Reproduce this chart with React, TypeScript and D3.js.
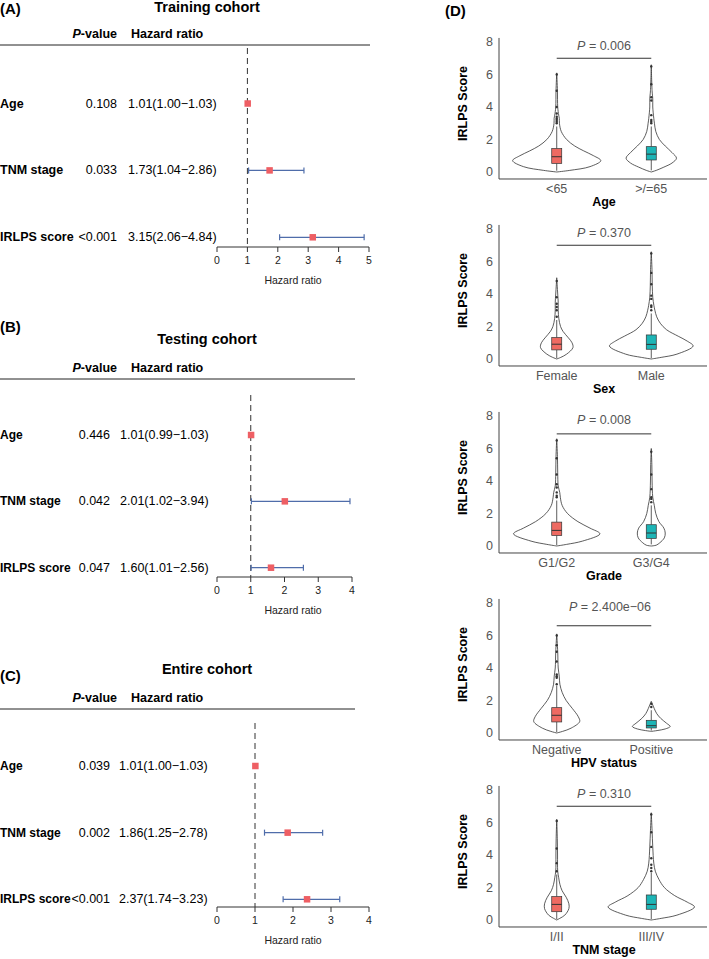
import React from 'react';
import * as d3 from 'd3';

const FONT = '"Liberation Sans", Arial, Helvetica, sans-serif';

// ---- forest plots (A-C) ----
const forestVars = ['Age', 'TNM stage', 'IRLPS score'];
const forestTicksMax = [5, 4, 4];

const trainP = ['0.108', '0.033', '<0.001'];
const trainHR = [1.01, 1.73, 3.15];
const trainLo = [1.0, 1.04, 2.06];
const trainHi = [1.03, 2.86, 4.84];

const testP = ['0.446', '0.042', '0.047'];
const testHR = [1.01, 2.01, 1.6];
const testLo = [0.99, 1.02, 1.01];
const testHi = [1.03, 3.94, 2.56];

const entireP = ['0.039', '0.002', '<0.001'];
const entireHR = [1.01, 1.86, 2.37];
const entireLo = [1.0, 1.25, 1.74];
const entireHi = [1.03, 2.78, 3.23];

// ---- violin plots (D) ----
const violinVariables = ['Age', 'Sex', 'Grade', 'HPV status', 'TNM stage'];
const violinGroups = [
  ['<65', '>/=65'],
  ['Female', 'Male'],
  ['G1/G2', 'G3/G4'],
  ['Negative', 'Positive'],
  ['I/II', 'III/IV'],
];
const violinPValues = ['0.006', '0.370', '0.008', '2.400e\u221206', '0.310'];
const violinPLine = [7.0, 7.0, 6.9, 6.6, 7.0];
const scoreTicks = [0, 2, 4, 6, 8];

// [score, density] profiles
const densityAge = [
  [[0, 0], [0.1, 0.29], [0.33, 0.74], [0.7, 0.98], [1.0, 0.82], [1.3, 0.6], [1.6, 0.4], [2.0, 0.22], [2.5, 0.1], [3.0, 0.06], [3.3, 0.058], [3.5, 0.044], [4, 0.022], [5, 0.016], [6.1, 0]],
  [[0, 0], [0.1, 0.11], [0.3, 0.28], [0.55, 0.46], [0.85, 0.56], [1.2, 0.46], [1.6, 0.31], [2.0, 0.18], [2.5, 0.1], [3.0, 0.07], [3.3, 0.056], [4, 0.033], [4.5, 0.033], [5, 0.018], [6.6, 0]],
];
const densitySex = [
  [[0, 0], [0.1, 0.09], [0.3, 0.22], [0.7, 0.36], [1.0, 0.34], [1.3, 0.26], [1.7, 0.14], [2.0, 0.085], [2.5, 0.046], [3, 0.033], [3.5, 0.033], [4, 0.022], [5, 0]],
  [[0, 0], [0.1, 0.22], [0.3, 0.57], [0.8, 0.93], [1.1, 0.8], [1.4, 0.6], [1.8, 0.34], [2.2, 0.2], [2.6, 0.12], [3.0, 0.08], [3.3, 0.058], [3.8, 0.033], [4.5, 0.022], [5.5, 0.016], [6.6, 0]],
];
const densityGrade = [
  [[0, 0], [0.1, 0.22], [0.3, 0.57], [0.75, 0.96], [1.1, 0.74], [1.5, 0.47], [2.0, 0.24], [2.5, 0.12], [3.0, 0.08], [3.3, 0.067], [3.7, 0.033], [4.5, 0.022], [5.5, 0.016], [6.6, 0]],
  [[0, 0], [0.05, 0.11], [0.2, 0.19], [0.5, 0.29], [0.8, 0.31], [1.1, 0.28], [1.5, 0.17], [2.0, 0.1], [2.5, 0.067], [3.0, 0.033], [4, 0.018], [5, 0.013], [6, 0]],
];
const densityHPV = [
  [[0, 0], [0.1, 0.13], [0.3, 0.32], [0.7, 0.51], [1.0, 0.48], [1.5, 0.35], [2.0, 0.21], [2.5, 0.12], [3.0, 0.07], [3.5, 0.056], [4.0, 0.033], [5.0, 0.022], [6.1, 0]],
  [[0.1, 0], [0.15, 0.13], [0.25, 0.31], [0.4, 0.42], [0.6, 0.34], [0.9, 0.21], [1.2, 0.12], [1.5, 0.067], [1.8, 0.022], [1.95, 0]],
];
const densityTNM = [
  [[0, 0], [0.1, 0.067], [0.3, 0.18], [0.7, 0.27], [1.0, 0.27], [1.4, 0.21], [1.8, 0.12], [2.2, 0.07], [2.6, 0.044], [3.0, 0.022], [4, 0.018], [5, 0.013], [6.2, 0]],
  [[0, 0], [0.1, 0.22], [0.3, 0.57], [0.8, 0.96], [1.1, 0.8], [1.5, 0.52], [2.0, 0.29], [2.5, 0.17], [3.0, 0.09], [3.5, 0.056], [4.5, 0.033], [5.5, 0.018], [6.6, 0]],
];
const violinDensities = [densityAge, densitySex, densityGrade, densityHPV, densityTNM];

// [lower whisker, q1, median, q3, upper whisker]
const boxAge = [[0.08, 0.53, 0.94, 1.44, 2.8], [0.1, 0.74, 1.1, 1.56, 2.8]];
const boxSex = [[0.05, 0.56, 0.91, 1.32, 2.4], [0.05, 0.6, 0.9, 1.48, 2.8]];
const boxGrade = [[0.05, 0.65, 0.96, 1.47, 2.8], [0.1, 0.47, 0.8, 1.31, 2.5]];
const boxHPV = [[0.05, 0.68, 1.09, 1.56, 2.9], [0.15, 0.31, 0.45, 0.78, 1.4]];
const boxTNM = [[0.05, 0.51, 0.96, 1.44, 2.8], [0.05, 0.66, 0.96, 1.54, 2.9]];
const violinBoxes = [boxAge, boxSex, boxGrade, boxHPV, boxTNM];

const outAge = [[3.0, 3.1, 3.2, 3.3, 3.4, 3.6, 4.0, 5.0, 6.0], [3.0, 3.1, 3.2, 3.5, 4.4, 4.6, 5.4, 6.5]];
const outSex = [[2.6, 3.0, 3.2, 3.4, 3.8, 4.8], [3.0, 3.2, 3.3, 3.7, 3.9, 4.6, 5.3, 6.5]];
const outGrade = [[3.0, 3.1, 3.3, 3.6, 3.8, 4.4, 5.4, 6.5], [2.7, 2.9, 3.0, 3.5, 4.4, 5.8]];
const outHPV = [[3.0, 3.4, 3.5, 3.6, 4.4, 5.0, 5.4, 6.0], [1.6, 1.8]];
const outTNM = [[3.0, 3.5, 4.4, 6.1], [3.0, 3.2, 3.4, 3.8, 4.5, 5.4, 6.5]];
const violinOutliers = [outAge, outSex, outGrade, outHPV, outTNM];

const groupColors = ['#EE6A62', '#1DB5B6'];
// horizontal nudge of the P label (px) per panel
const pLabelNudge = [0, 0, 0, 6, 0];

type ForestCfg = {
  tag: string;
  title: string;
  p: string[];
  hr: number[];
  lo: number[];
  hi: number[];
  max: number;
  line: number;
  tagY: number;
  titleY: number;
  lineX2: number;
  rows: [number, number];
  axisY: number;
  axisX: [number, number];
  pRight: number;
  hrLeft: number;
  dashTop: number;
  labelSize: number;
};

const forestPanels: ForestCfg[] = [
  {
    tag: '(A)', title: 'Training cohort', p: trainP, hr: trainHR, lo: trainLo, hi: trainHi,
    max: forestTicksMax[0], line: 45, tagY: 14, titleY: 12, lineX2: 370, rows: [103.5, 237.3],
    axisY: 247, axisX: [217, 369], pRight: 117, hrLeft: 128, dashTop: 48, labelSize: 12.5,
  },
  {
    tag: '(B)', title: 'Testing cohort', p: testP, hr: testHR, lo: testLo, hi: testHi,
    max: forestTicksMax[1], line: 379, tagY: 332, titleY: 344, lineX2: 355, rows: [435, 567.7],
    axisY: 577, axisX: [217, 352], pRight: 110, hrLeft: 120, dashTop: 395, labelSize: 12,
  },
  {
    tag: '(C)', title: 'Entire cohort', p: entireP, hr: entireHR, lo: entireLo, hi: entireHi,
    max: forestTicksMax[2], line: 709, tagY: 681, titleY: 674, lineX2: 355, rows: [766, 899.3],
    axisY: 907, axisX: [217, 369], pRight: 110, hrLeft: 119, dashTop: 723, labelSize: 12,
  },
];

const ForestPanel: React.FC<{ c: ForestCfg }> = ({ c }) => {
  const x = d3.scaleLinear().domain([0, c.max]).range(c.axisX);
  const y = d3.scalePoint<string>().domain(forestVars).range(c.rows);
  const ticks = x.ticks(c.max);
  const fmt = d3.format('.2f');
  const sq = 6.5;
  return (
    <g>
      <text x={0} y={c.tagY} fontSize={15} fontWeight="bold">{c.tag}</text>
      <text x={207} y={c.titleY} fontSize={14.5} fontWeight="bold" textAnchor="middle">{c.title}</text>
      <text x={117} y={c.line - 7} fontSize={12.5} fontWeight="bold" textAnchor="end">
        <tspan fontStyle="italic">P</tspan>-value
      </text>
      <text x={131} y={c.line - 7} fontSize={12.5} fontWeight="bold">Hazard ratio</text>
      <line x1={0} x2={c.lineX2} y1={c.line} y2={c.line} stroke="#222" strokeWidth={1} />

      <line x1={x(1)} x2={x(1)} y1={c.dashTop} y2={c.axisY} stroke="#333" strokeWidth={1} strokeDasharray="6,4" />

      {forestVars.map((v, i) => {
        const yy = y(v)!;
        return (
          <g key={v}>
            <text x={0} y={yy + 4} fontSize={c.labelSize} fontWeight="bold">{v}</text>
            <text x={c.pRight} y={yy + 4} fontSize={12.5} textAnchor="end">{c.p[i]}</text>
            <text x={c.hrLeft} y={yy + 4} fontSize={12.5}>
              {`${fmt(c.hr[i])}(${fmt(c.lo[i])}\u2212${fmt(c.hi[i])})`}
            </text>
            {c.hi[i] - c.lo[i] > 0.1 && (
              <g stroke="#4F6DAA" strokeWidth={1.2}>
                <line x1={x(c.lo[i])} x2={x(c.hi[i])} y1={yy} y2={yy} />
                <line x1={x(c.lo[i])} x2={x(c.lo[i])} y1={yy - 3} y2={yy + 3} />
                <line x1={x(c.hi[i])} x2={x(c.hi[i])} y1={yy - 3} y2={yy + 3} />
              </g>
            )}
            <rect x={x(c.hr[i]) - sq / 2} y={yy - sq / 2} width={sq} height={sq} fill="#EE5F64" />
          </g>
        );
      })}

      <line x1={c.axisX[0]} x2={c.axisX[1]} y1={c.axisY} y2={c.axisY} stroke="#333" strokeWidth={1} />
      {ticks.map((t) => (
        <g key={t}>
          <line x1={x(t)} x2={x(t)} y1={c.axisY} y2={c.axisY + 5} stroke="#333" strokeWidth={1} />
          <text x={x(t)} y={c.axisY + 17} fontSize={10.5} textAnchor="middle" fill="#222">{t}</text>
        </g>
      ))}
      <text x={293} y={c.axisY + 37} fontSize={10.5} textAnchor="middle" fill="#222">Hazard ratio</text>
    </g>
  );
};

const ViolinPanel: React.FC<{ i: number }> = ({ i }) => {
  const top = 42 + i * 187;
  const y = d3.scaleLinear().domain([0, 8]).range([top + 130, top]);
  const axisY = y(-0.43);
  const x = d3.scalePoint<string>().domain(violinGroups[i]).range([500, 708]).padding(0.6);
  const w = d3.scaleLinear().domain([0, 1]).range([0, 45]);
  const mid = (x(violinGroups[i][0])! + x(violinGroups[i][1])!) / 2;
  return (
    <g>
      <text
        transform={`translate(467,${(y(8.25) + axisY) / 2 - 5}) rotate(-90)`}
        fontSize={12.5}
        fontWeight="bold"
        textAnchor="middle"
      >
        IRLPS Score
      </text>
      <line x1={499} x2={499} y1={y(8.25)} y2={axisY} stroke="#444" strokeWidth={1} />
      <line x1={499} x2={707} y1={axisY} y2={axisY} stroke="#444" strokeWidth={1} />
      {scoreTicks.map((t) => (
        <text key={t} x={493} y={y(t) + 4.3} fontSize={12.5} textAnchor="end" fill="#555">{t}</text>
      ))}
      {violinGroups[i].map((g, j) => {
        const cx = x(g)!;
        const area = d3
          .area<number[]>()
          .y((d) => y(d[0]))
          .x0((d) => cx - w(d[1]))
          .x1((d) => cx + w(d[1]))
          .curve(d3.curveCatmullRom);
        const b = violinBoxes[i][j];
        return (
          <g key={g}>
            <path d={area(violinDensities[i][j]) || ''} fill="white" stroke="#333" strokeWidth={0.8} />
            <line x1={cx} x2={cx} y1={y(b[0])} y2={y(b[1])} stroke="#333" strokeWidth={0.8} />
            <line x1={cx} x2={cx} y1={y(b[3])} y2={y(b[4])} stroke="#333" strokeWidth={0.8} />
            {violinOutliers[i][j].map((o, k) => (
              <circle key={k} cx={cx} cy={y(o)} r={1.2} fill="#333" />
            ))}
            <rect x={cx - 5} y={y(b[3])} width={10} height={y(b[1]) - y(b[3])} fill={groupColors[j]} stroke="#333" strokeWidth={0.7} />
            <line x1={cx - 5} x2={cx + 5} y1={y(b[2])} y2={y(b[2])} stroke="#333" strokeWidth={1} />
            <text x={cx} y={axisY + 14} fontSize={12.5} textAnchor="middle" fill="#555">{g}</text>
          </g>
        );
      })}
      <line x1={x(violinGroups[i][0])} x2={x(violinGroups[i][1])} y1={y(violinPLine[i])} y2={y(violinPLine[i])} stroke="#333" strokeWidth={1} />
      <text x={mid + pLabelNudge[i]} y={y(7.5)} fontSize={12.5} textAnchor="middle" fill="#555">
        <tspan fontStyle="italic">P</tspan>{` = ${violinPValues[i]}`}
      </text>
      <text x={mid} y={axisY + 27} fontSize={12.5} fontWeight="bold" textAnchor="middle">{violinVariables[i]}</text>
    </g>
  );
};

export default function App() {
  return (
    <svg
      width={709}
      height={959}
      style={{ position: 'absolute', left: 0, top: 0, background: 'white' }}
      fontFamily={FONT}
    >
      <rect width={709} height={959} fill="white" />
      {forestPanels.map((c) => (
        <ForestPanel key={c.tag} c={c} />
      ))}
      <text x={445} y={16} fontSize={15} fontWeight="bold">(D)</text>
      {violinVariables.map((v, i) => (
        <ViolinPanel key={v} i={i} />
      ))}
    </svg>
  );
}
